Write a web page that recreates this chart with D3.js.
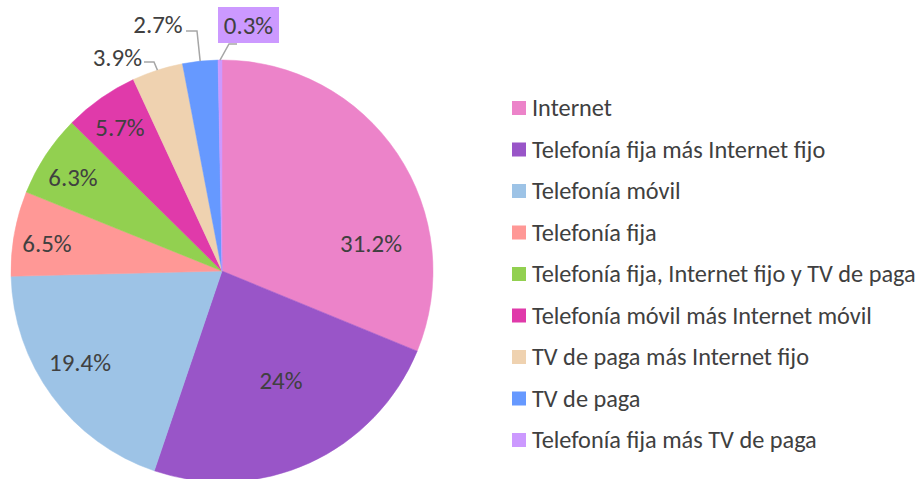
<!DOCTYPE html>
<html><head><meta charset="utf-8">
<script src="https://cdn.jsdelivr.net/npm/d3@7"></script>
<style>body{margin:0;background:#fff;} svg{display:block;}</style>
</head><body>
<svg id="c" width="920" height="479"></svg>
<script>
const categories = ["Internet","Telefonía fija más Internet fijo","Telefonía móvil","Telefonía fija","Telefonía fija, Internet fijo y TV de paga","Telefonía móvil más Internet móvil","TV de paga más Internet fijo","TV de paga","Telefonía fija más TV de paga"];
const values = [31.2, 24, 19.4, 6.5, 6.3, 5.7, 3.9, 2.7, 0.3];
const valueLabels = ["31.2%","24%","19.4%","6.5%","6.3%","5.7%","3.9%","2.7%","0.3%"];
const colors = ["#EC83C9","#9955C8","#9DC3E6","#FF9896","#92D050","#E03AAA","#EFD2B0","#6699FF","#CC99FF"];

// layout (label offsets relative to pie centre)
const cx = 222, cy = 271, R = 211;
const labelOffsets = [[149,-28],[59,109],[-142,91],[-175,-28],[-149,-94],[-102,-144],null,null,null];
const FONT = "Carlito, Calibri, Lato, 'Liberation Sans', sans-serif";
const textColor = "#404040";

const svg = d3.select("#c");
const g = svg.append("g").attr("transform", `translate(${cx},${cy})`);
const pie = d3.pie().sort(null).value(d => d)(values);
const arc = d3.arc().innerRadius(0).outerRadius(R);

g.selectAll("path.s").data(pie).join("path")
  .attr("class","s").attr("d", arc)
  .attr("fill", (d,i) => colors[i])
  .attr("stroke", (d,i) => colors[i]).attr("stroke-width", 0.5);

// fit helper
function fitSize(text, target, base) {
  const t = svg.append("text").style("font-family", FONT).style("font-size", base+"px").text(text);
  const w = t.node().getComputedTextLength(); t.remove();
  return base * target / w;
}
const labelSize = fitSize("31.2%", 62, 22);
const legendSize = fitSize("Telefonía fija, Internet fijo y TV de paga", 384, 22);

// inside labels
pie.forEach((d,i) => {
  const o = labelOffsets[i];
  if (!o) return;
  g.append("text").attr("x", o[0]).attr("y", o[1])
    .attr("text-anchor","middle").attr("dominant-baseline","central")
    .style("font-family", FONT).style("font-size", labelSize+"px")
    .attr("fill", textColor).text(valueLabels[i]);
});

// outside labels with leader lines
const edge = d => { const a = (d.startAngle + d.endAngle)/2; return [R*Math.sin(a), -R*Math.cos(a)]; };
const lineColor = "#A6A6A6";
// 3.9%
(function(){
  const d = pie[6], e = edge(d);
  g.append("path").attr("d", d3.line()([[144-cx, 62-cy],[154-cx,62-cy], e]))
    .attr("fill","none").attr("stroke", lineColor).attr("stroke-width",1.5);
  g.append("text").attr("x", 142-cx).attr("y", 57-cy).attr("text-anchor","end").attr("dominant-baseline","central")
    .style("font-family", FONT).style("font-size", labelSize+"px").attr("fill", textColor).text(valueLabels[6]);
})();
// 2.7%
(function(){
  const d = pie[7], e = edge(d);
  g.append("path").attr("d", d3.line()([[186-cx, 31-cy],[197-cx,31-cy], e]))
    .attr("fill","none").attr("stroke", lineColor).attr("stroke-width",1.5);
  g.append("text").attr("x", 158-cx).attr("y", 24-cy).attr("text-anchor","middle").attr("dominant-baseline","central")
    .style("font-family", FONT).style("font-size", labelSize+"px").attr("fill", textColor).text(valueLabels[7]);
})();
// 0.3%
(function(){
  const d = pie[8], e = edge(d);
  g.append("path").attr("d", d3.line()([[237-cx, 44-cy],[229-cx,44-cy], e]))
    .attr("fill","none").attr("stroke", lineColor).attr("stroke-width",1.5);
  g.append("rect").attr("x", 218-cx).attr("y", 7-cy).attr("width", 61).attr("height", 36).attr("fill", colors[8]);
  g.append("text").attr("x", 248.5-cx).attr("y", 25-cy).attr("text-anchor","middle").attr("dominant-baseline","central")
    .style("font-family", FONT).style("font-size", labelSize+"px").attr("fill", textColor).text(valueLabels[8]);
})();

// legend
const ly = d3.scalePoint().domain(categories).range([108, 440]);
const leg = svg.append("g");
categories.forEach((c,i) => {
  leg.append("rect").attr("x", 512).attr("y", ly(c)-7).attr("width", 14).attr("height", 14).attr("fill", colors[i]);
  leg.append("text").attr("x", 532).attr("y", ly(c)).attr("dominant-baseline","central")
    .style("font-family", FONT).style("font-size", legendSize+"px").attr("fill", textColor).text(c);
});
</script>
</body></html>
